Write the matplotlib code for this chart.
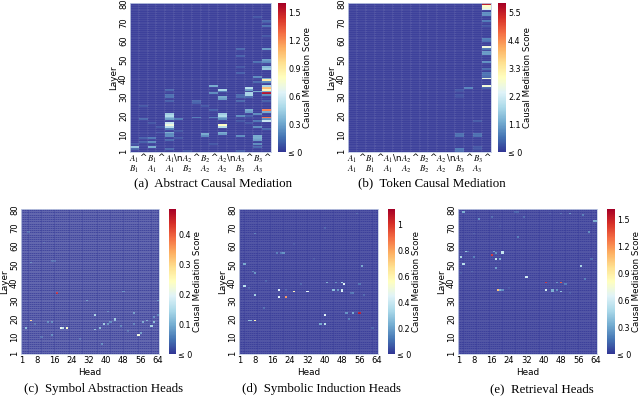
import numpy as np
import matplotlib
matplotlib.use('Agg')
import matplotlib.pyplot as plt

plt.rcParams['mathtext.fontset'] = 'stix'

W, H = 640, 396

# token x labels, two rows
top_row = [r'$A_1$', '^', r'$B_1$', '^', r'$A_1$', r'\n', r'$A_2$', '^', r'$B_2$', '^', r'$A_2$', r'\n', r'$A_3$', '^', r'$B_3$', '^']
low_a = [r'$B_1$', '', r'$A_1$', '', r'$A_1$', '', r'$B_2$', '', r'$A_2$', '', r'$A_2$', '', r'$B_3$', '', r'$A_3$', '']
low_b = [r'$A_1$', '', r'$B_1$', '', r'$A_1$', '', r'$A_2$', '', r'$B_2$', '', r'$A_2$', '', r'$B_3$', '', r'$A_3$', '']

layer_ticks = [1, 10, 20, 30, 40, 50, 60, 70, 80]
head_ticks = [1, 8, 16, 24, 32, 40, 48, 56, 64]

# (a) token column: {layer: score}
abstract_scores = {
    0: {3: .4, 2: .1, 5: .06},
    1: {6: .08, 8: .08, 18: .1, 25: .05},
    2: {3: .3, 6: .2, 8: .15, 16: .05},
    3: {11: .05, 14: .05},
    4: {34: .1, 31: .12, 30: .12, 28: .08, 21: .42, 20: .48, 19: .35, 18: .25, 16: .55, 15: .72, 14: .5,
        13: .15, 11: .3, 10: .2, 9: .2, 7: .1, 2: .1},
    5: {18: .15, 8: .05, 12: .05},
    6: {1: .05},
    7: {19: .15, 28: .1, 27: .08},
    8: {10: .3, 9: .2, 25: .05},
    9: {36: .3, 32: .2, 23: .08, 19: .15, 5: .05},
    10: {34: .45, 33: .15, 30: .3, 29: .25, 21: .42, 20: .48, 19: .3, 18: .2, 15: .8, 14: .5, 11: .3, 10: .25},
    12: {56: .1, 52: .08, 46: .05, 43: .08, 31: .1, 30: .1, 28: .1, 20: .2, 17: .05, 9: .2, 1: .08},
    13: {35: .5, 34: .25, 32: .45, 31: .45, 30: .1, 23: .3, 22: .25, 20: .08, 16: .05},
    14: {73: .05, 49: .12, 41: .2, 38: .1, 33: .3, 21: .2, 17: .15, 14: .2, 9: .3, 8: .3, 7: .25, 5: .2, 3: .1},
    15: {71: .1, 70: .06, 68: .12, 63: .05, 56: .25, 50: .25, 49: .2, 46: .35, 45: .4, 40: .3, 39: .9, 38: .2,
         36: .45, 35: 1.08, 34: .85, 33: .3, 32: 1.57, 31: .2, 28: .08, 23: 1.25, 22: .3, 19: 1.3, 18: .2, 17: .55, 13: .1},
}
# (b)
token_scores = {
    12: {34: .2, 33: .12, 31: .18, 30: .12, 10: .45, 9: .45, 2: .55, 1: .45},
    13: {35: .65},
    14: {17: .25, 10: .45, 9: .45, 3: .2, 2: .2},
    15: {80: 5.6, 79: 2.9, 78: 2.7, 77: 2.3, 75: .8, 74: .8, 71: .55, 68: .2, 61: .6, 60: .5, 57: 2.6, 56: .5,
         54: .9, 53: .9, 49: .8, 45: .4, 43: .5, 42: .5, 41: .4, 40: 2.6, 36: 2.7, 35: .3},
}

# heads: (layer, head, score)
symbol_heads = [(19, 5, .31), (34, 17, .47), (15, 19, .2), (15, 20, .15), (15, 22, .24), (22, 35, .13), (14, 35, .1),
                (15, 37, .1), (17, 39, .12), (20, 44, .12), (19, 44, .1), (17, 41, .06), (18, 42, .05), (23, 53, .07),
                (11, 55, .22), (12, 56, .07), (18, 57, .08), (19, 59, .08), (16, 61, .13), (18, 62, .1), (30, 31, .06),
                (35, 48, .05), (30, 64, .05), (18, 15, .05), (18, 13, .05), (15, 3, .1), (51, 5, .04), (11, 15, .05),
                (6, 38, .05), (10, 10, .03), (21, 62, .05), (22, 64, .04), (52, 15, .03), (52, 16, .03), (17, 53, .04),
                (16, 47, .04), (24, 41, .04), (68, 4, .03), (62, 11, .02), (17, 7, .03), (13, 50, .03), (9, 28, .03)]
induction_heads = [(50, 3, .2), (38, 3, .35), (67, 8, .1), (46, 7, .1), (45, 8, .15), (33, 8, .3), (19, 5, .25),
                   (19, 6, .25), (19, 8, .6), (56, 18, .1), (56, 21, .15), (56, 20, .1), (36, 19, .45), (32, 19, .45),
                   (32, 22, .85), (35, 26, .6), (35, 32, .45), (22, 40, .45), (17, 38, .2), (17, 40, .35), (40, 41, .2),
                   (36, 44, .25), (40, 45, .12), (36, 46, .15), (40, 48, .3), (39, 49, .45), (36, 48, .4), (35, 48, .45),
                   (23, 50, .15), (23, 53, .2), (20, 51, .1), (23, 56, 1.1), (49, 57, .2), (34, 53, .1), (34, 52, .08),
                   (39, 56, .08), (70, 40, .05), (33, 58, .06), (78, 55, .05), (26, 12, .07), (39, 29, .05), (15, 62, .05),
                   (41, 13, .05), (61, 26, .03), (53, 35, .03), (37, 5, .05), (36, 22, .05)]
retrieval_heads = [(79, 3, .3), (75, 10, .2), (54, 2, .45), (50, 3, .5), (57, 4, .35), (57, 5, .12), (55, 16, 1.5),
                   (57, 17, .25), (56, 18, .2), (53, 18, .55), (53, 20, .3), (57, 21, .55), (56, 21, .55), (48, 18, .25),
                   (54, 8, .15), (76, 16, .1), (65, 28, .15), (43, 32, .6), (36, 19, 1.1), (36, 20, .3), (36, 21, .2),
                   (40, 41, 1.55), (40, 48, 1.4), (40, 46, .2), (36, 41, .6), (36, 44, .3), (35, 44, .3), (36, 46, .2),
                   (35, 48, .35), (39, 50, .15), (49, 57, .45), (42, 59, .15), (68, 61, .2), (74, 63, .3), (74, 64, .3),
                   (78, 52, .2), (78, 48, .1), (77, 58, .15), (76, 31, .1), (78, 43, .05), (79, 27, .08), (79, 28, .08),
                   (53, 62, .1), (46, 7, .06), (67, 8, .05), (45, 2, .04), (71, 20, .03), (34, 52, .05), (37, 24, .05)]


def fill_tokens(scores):
    m = np.zeros((80, 16))
    for col, rows in scores.items():
        for layer, v in rows.items():
            m[layer - 1, col] = v
    return m


def fill_heads(cells):
    m = np.zeros((80, 64))
    for layer, head, v in cells:
        m[layer - 1, head - 1] = v
    return m


def px_axes(fig, x0, x1, y0, y1):
    return fig.add_axes([x0 / W, 1 - y1 / H, (x1 - x0) / W, (y1 - y0) / H])


def heat(fig, m, box, cbox, vmax, cticks, cfmt, grid=.06):
    ax = px_axes(fig, *box)
    mesh = ax.pcolormesh(np.arange(m.shape[1] + 1), np.arange(81), m, cmap='RdYlBu_r', vmin=0, vmax=vmax,
                         edgecolors=(1, 1, 1, grid), linewidth=.3)
    for s in ax.spines.values():
        s.set_color('#c2cce4')
        s.set_linewidth(.6)
    ax.set_yticks(np.array(layer_ticks) - .5)
    ax.set_yticklabels(layer_ticks, rotation=90, va='center', fontsize=6)
    ax.tick_params(axis='both', length=0, pad=1.5)
    ax.set_ylabel('Layer', fontsize=6.4, labelpad=0.5)
    cax = px_axes(fig, *cbox)
    cb = fig.colorbar(mesh, cax=cax)
    cb.outline.set_visible(False)
    cb.set_ticks([0] + cticks)
    cb.set_ticklabels(['≤ 0'] + [cfmt % t for t in cticks], fontsize=5.8)
    cb.ax.tick_params(length=0, pad=1.5)
    cb.set_label('Causal Mediation Score', fontsize=6.2, va='center')
    # label sits a fixed 21.5 px right of the bar
    cb.ax.yaxis.set_label_coords(1 + 21.5 / (cbox[1] - cbox[0]), .5)
    return ax


def token_axis(ax, low):
    ax.set_xticks(np.arange(16) + .5)
    ax.set_xticklabels([a + '\n' + b for a, b in zip(top_row, low)], fontsize=6.3, linespacing=.95)
    ax.tick_params(axis='x', pad=1)


def head_axis(ax):
    ax.set_xticks(np.array(head_ticks) - .5)
    ax.set_xticklabels(head_ticks, fontsize=6)
    ax.set_xlabel('Head', fontsize=6.4, labelpad=2)


fig = plt.figure(figsize=(W / 100, H / 100), dpi=100)

a = heat(fig, fill_tokens(abstract_scores), (130, 271, 3, 152), (278, 286, 3, 152), 1.6, [.3, .6, .9, 1.2, 1.5], '%.1f')
token_axis(a, low_a)
b = heat(fig, fill_tokens(token_scores), (348, 491, 3, 152), (498, 506, 3, 152), 5.86, [1.1, 2.2, 3.3, 4.4, 5.5], '%.1f')
token_axis(b, low_b)
c = heat(fig, fill_heads(symbol_heads), (21, 159, 209, 354), (169, 176, 209, 354), .486, [.1, .2, .3, .4], '%.1f', grid=.09)
head_axis(c)
d = heat(fig, fill_heads(induction_heads), (239, 378, 209, 354), (388, 395, 209, 354), 1.12, [.2, .4, .6, .8, 1], '%g')
head_axis(d)
e = heat(fig, fill_heads(retrieval_heads), (458, 597, 209, 354), (607, 615, 209, 354), 1.62, [.3, .6, .9, 1.2, 1.5], '%.1f')
head_axis(e)

captions = [('(a)  Abstract Causal Mediation', 213, 183), ('(b)  Token Causal Mediation', 432, 183),
            ('(c)  Symbol Abstraction Heads', 104, 389), ('(d)  Symbolic Induction Heads', 322, 389),
            ('(e)  Retrieval Heads', 542, 389)]
for txt, x, y in captions:
    fig.text(x / W, 1 - y / H, txt, family='Liberation Serif', fontsize=9.3, ha='center', va='center')

fig.savefig('out.png', dpi=100)
